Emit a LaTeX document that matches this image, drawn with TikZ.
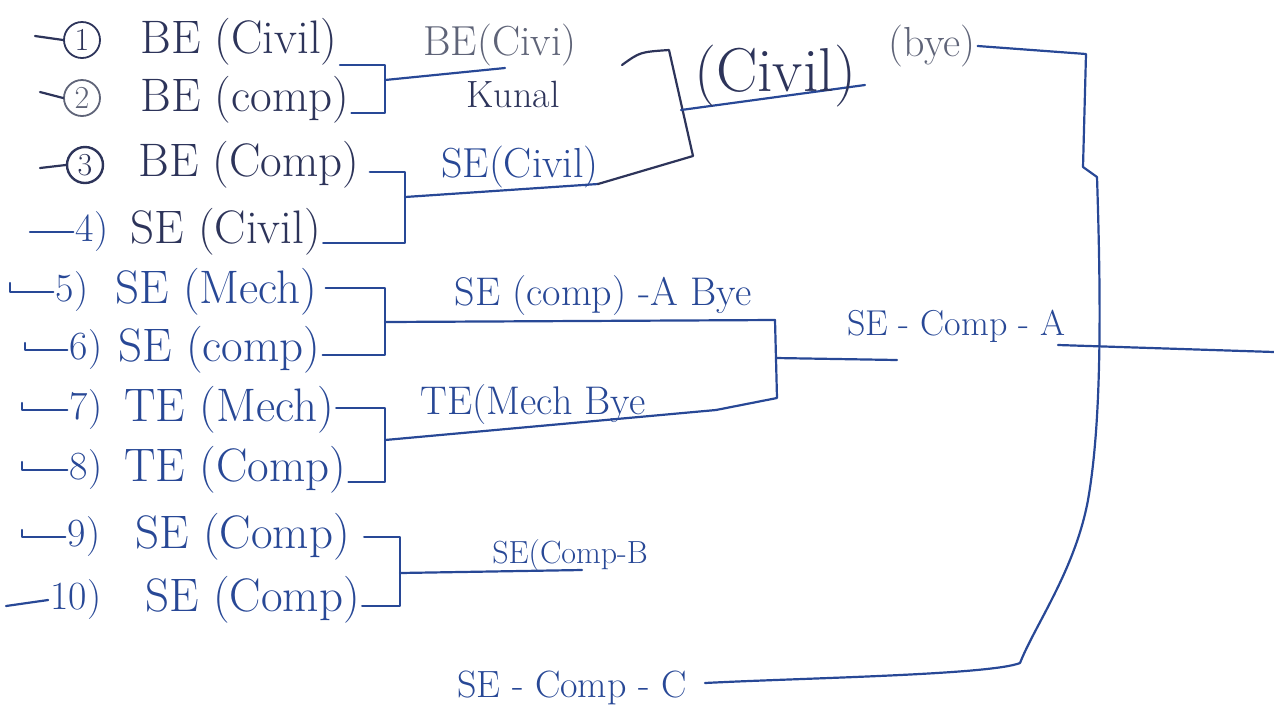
\documentclass[tikz,border=0pt]{standalone}
\begin{document}
\definecolor{ink}{RGB}{40,72,150}
\definecolor{inkdark}{RGB}{45,52,90}
\definecolor{inkgray}{RGB}{95,100,120}
\begin{tikzpicture}[x=0.5pt,y=-0.5pt,
  wire/.style={draw=ink, line width=1.1pt, line join=round, line cap=round},
  entry/.style={anchor=west, inner sep=1pt, font=\fontsize{23.5}{27}\selectfont},
  numlab/.style={inner sep=1pt, font=\fontsize{20}{24}\selectfont},
  cnum/.style={circle, draw, line width=0.9pt, inner sep=0pt, minimum size=18pt, font=\fontsize{16}{18}\selectfont},
  lab/.style={inner sep=1pt, font=\fontsize{21}{25}\selectfont}]
\useasboundingbox (0,0) rectangle (1274,719);

% ---------- entries ----------
\node[cnum, draw=inkdark, text=inkdark] (n1) at (82,40) {1};
\node[entry, text=inkdark] (e1) at (138,42) {BE (Civil)};
\node[cnum, draw=inkgray, text=inkgray] (n2) at (82,98) {2};
\node[entry, text=inkdark] (e2) at (138,100) {BE (comp)};
\node[cnum, draw=inkdark, text=inkdark, line width=1.2pt] (n3) at (85,165) {3};
\node[entry, text=inkdark] (e3) at (136,165) {BE (Comp)};
\node[numlab, text=ink] (n4) at (92,232) {4)};
\node[entry, text=inkdark] (e4) at (128,232) {SE (Civil)};
\node[numlab, text=ink] (n5) at (72,292) {5)};
\node[entry, text=ink] (e5) at (113,292) {SE (Mech)};
\node[numlab, text=ink] (n6) at (86,350) {6)};
\node[entry, text=ink] (e6) at (116,350) {SE (comp)};
\node[numlab, text=ink] (n7) at (86,410) {7)};
\node[entry, text=ink] (e7) at (122,410) {TE (Mech)};
\node[numlab, text=ink] (n8) at (86,470) {8)};
\node[entry, text=ink] (e8) at (122,470) {TE (Comp)};
\node[numlab, text=ink] (n9) at (84,537) {9)};
\node[entry, text=ink] (e9) at (133,537) {SE (Comp)};
\node[numlab, text=ink] (n10) at (76,600) {10)};
\node[entry, text=ink] (e10) at (143,600) {SE (Comp)};

% lead marks
\coordinate (l1) at (35,36);
\coordinate (l2) at (40,92);
\coordinate (l3) at (40,168);
\coordinate (l4) at (30,232);
\coordinate (l5) at (10,283);
\coordinate (l6) at (25,343);
\coordinate (l7) at (22,403);
\coordinate (l8) at (22,462);
\coordinate (l9) at (22,530);
\coordinate (l10) at (6,606);
\draw[wire, draw=inkdark] (l1) -- (n1.west);
\draw[wire, draw=inkdark] (l2) -- (n2.west);
\draw[wire, draw=inkdark] (l3) -- (n3.west);
\draw[wire] (l4) -- (n4.west);
\draw[wire] (l5) |- (n5.west);
\draw[wire] (l6) |- (n6.west);
\draw[wire] (l7) |- (n7.west);
\draw[wire] (l8) |- (n8.west);
\draw[wire] (l9) |- (n9.west);
\draw[wire] (l10) -- (n10.west);

% ---------- first round ----------
\coordinate (j12) at (385,80);
\coordinate (j34) at (405,197);
\coordinate (j56) at (385,322);
\coordinate (j78) at (385,440);
\coordinate (j910) at (400,573);
\draw[wire] ([yshift=-11.5pt]e1.east) -| (j12) |- ([yshift=-6.5pt]e2.east);
\draw[wire] ([xshift=4pt,yshift=-3.5pt]e3.east) -| (j34) |- ([yshift=-5.5pt]e4.east);
\draw[wire] ([xshift=3pt,yshift=2pt]e5.east) -| (j56) |- ([yshift=-2.5pt]e6.east);
\draw[wire] ([yshift=1pt]e7.east) -| (j78) |- ([yshift=-6pt]e8.east);
\draw[wire] ([xshift=6pt]e9.east) -| (j910) |- ([yshift=-3pt]e10.east);

\coordinate (o12) at (505,68);
\coordinate (o34) at (598,184);
\coordinate (o56) at (775,320);
\coordinate (o78) at (716,410);
\coordinate (o910) at (582,570);
\draw[wire] (j12) -- (o12);
\draw[wire] (j34) -- (o34);
\draw[wire] (j56) -- (o56);
\draw[wire] (j78) -- (o78);
\draw[wire] (j910) -- (o910);

\node[lab, text=inkgray] (w12) at (500,45) {BE(Civi)};
\node[lab, text=inkdark, font=\fontsize{19}{22}\selectfont] (k12) at (513,94) {Kunal};
\node[lab, text=ink] (w34) at (520,167) {SE(Civil)};
\node[lab, text=ink, font=\fontsize{20}{24}\selectfont] (w56) at (603,296) {SE (comp) -A Bye};
\node[lab, text=ink, font=\fontsize{20}{24}\selectfont] (w78) at (533,405) {TE(Mech Bye};
\node[lab, text=ink, font=\fontsize{16}{19}\selectfont] (w910) at (570,556) {SE(Comp-B};

% ---------- second round ----------
\coordinate (r1a) at (622,65);
\coordinate (r1b) at (669,50);
\coordinate (r1c) at (693,156);
\coordinate (jr1) at (681,110);
\coordinate (or1) at (865,85);
\draw[wire, draw=inkdark] (r1a) .. controls (640,52) .. (r1b) -- (r1c) -- (o34);
\draw[wire] (jr1) -- (or1);
\node[lab, text=inkdark, font=\fontsize{31}{35}\selectfont] (civ) at (775,76) {(Civil)};
\node[lab, text=inkgray] (bye) at (932,46) {(bye)};

\coordinate (r2b) at (777,398);
\coordinate (jr2) at (776,358);
\coordinate (or2) at (897,360);
\draw[wire] (o56) -- (r2b) -- (o78);
\draw[wire] (jr2) -- (or2);
\node[lab, text=ink, font=\fontsize{18}{22}\selectfont] (sca) at (956,326) {SE - Comp - A};
\coordinate (sa1) at (1058,345);
\coordinate (sa2) at (1274,352);
\draw[wire] (sa1) -- (sa2);

% ---------- final ----------
\node[lab, text=ink, font=\fontsize{19}{22}\selectfont] (scc) at (572,688) {SE - Comp - C};
\coordinate (f1) at (1086,54);
\coordinate (f2) at (1083,167);
\coordinate (f3) at (1097,177);
\coordinate (f4) at (1088,500);
\coordinate (f5) at (1020,663);
\coordinate (f6) at (705,683);
\draw[wire] (bye.east) -- (f1) -- (f2) -- (f3)
  .. controls (1101,300) and (1102,420) .. (f4)
  .. controls (1075,570) and (1035,625) .. (f5)
  .. controls (990,675) and (800,678) .. (f6);
\end{tikzpicture}
\end{document}
